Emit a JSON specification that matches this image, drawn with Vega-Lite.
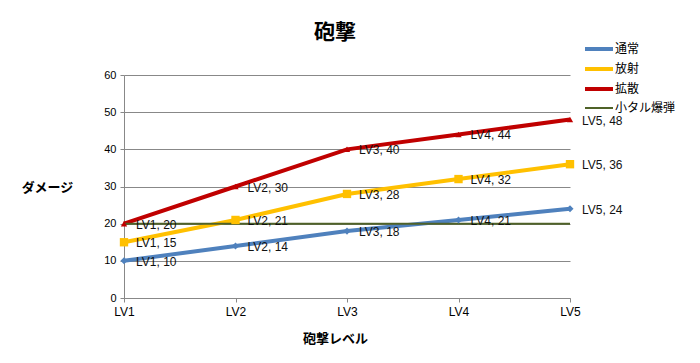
{
  "$schema": "https://vega.github.io/schema/vega-lite/v6.json",
  "autosize": {"type": "none"},
  "width": 446,
  "height": 223,
  "padding": {"left": 124, "top": 75, "right": 130, "bottom": 65},
  "background": "white",
  "title": {
    "text": "砲撃",
    "font": "Noto Sans CJK JP",
    "fontSize": 21,
    "fontWeight": "bold",
    "color": "#000000",
    "anchor": "middle",
    "dx": -12,
    "offset": -6
  },
  "config": {
    "view": {"stroke": null},
    "font": "Liberation Sans",
    "axis": {
      "domainColor": "#888888",
      "tickColor": "#888888",
      "gridColor": "#888888",
      "labelColor": "#000000",
      "labelFont": "Liberation Sans",
      "labelFontSize": 11,
      "titleFont": "Noto Sans CJK JP",
      "titleFontSize": 13,
      "titleFontWeight": "bold",
      "titleColor": "#000000",
      "tickSize": 4
    }
  },
  "data": {
    "values": [
      {"level": "LV1", "series": "通常", "value": 10, "label": "LV1, 10"},
      {"level": "LV2", "series": "通常", "value": 14, "label": "LV2, 14"},
      {"level": "LV3", "series": "通常", "value": 18, "label": "LV3, 18"},
      {"level": "LV4", "series": "通常", "value": 21, "label": "LV4, 21"},
      {"level": "LV5", "series": "通常", "value": 24, "label": "LV5, 24"},
      {"level": "LV1", "series": "放射", "value": 15, "label": "LV1, 15"},
      {"level": "LV2", "series": "放射", "value": 21, "label": "LV2, 21"},
      {"level": "LV3", "series": "放射", "value": 28, "label": "LV3, 28"},
      {"level": "LV4", "series": "放射", "value": 32, "label": "LV4, 32"},
      {"level": "LV5", "series": "放射", "value": 36, "label": "LV5, 36"},
      {"level": "LV1", "series": "拡散", "value": 20, "label": "LV1, 20"},
      {"level": "LV2", "series": "拡散", "value": 30, "label": "LV2, 30"},
      {"level": "LV3", "series": "拡散", "value": 40, "label": "LV3, 40"},
      {"level": "LV4", "series": "拡散", "value": 44, "label": "LV4, 44"},
      {"level": "LV5", "series": "拡散", "value": 48, "label": "LV5, 48"},
      {"level": "LV1", "series": "小タル爆弾", "value": 20, "label": ""},
      {"level": "LV2", "series": "小タル爆弾", "value": 20, "label": ""},
      {"level": "LV3", "series": "小タル爆弾", "value": 20, "label": ""},
      {"level": "LV4", "series": "小タル爆弾", "value": 20, "label": ""},
      {"level": "LV5", "series": "小タル爆弾", "value": 20, "label": ""}
    ]
  },
  "encoding": {
    "x": {
      "field": "level",
      "type": "ordinal",
      "scale": {"type": "point", "padding": 0},
      "axis": {
        "labelAngle": 0,
        "labelFontSize": 12,
        "labelPadding": 4,
        "title": "砲撃レベル",
        "titleX": 211,
        "titleY": 40,
        "titleAlign": "center",
        "titleBaseline": "middle"
      }
    },
    "y": {
      "field": "value",
      "type": "quantitative",
      "scale": {"domain": [0, 60], "nice": false},
      "axis": {
        "values": [0, 10, 20, 30, 40, 50, 60],
        "grid": true,
        "labelPadding": 4,
        "title": "ダメージ",
        "titleAngle": 0,
        "titleX": -77,
        "titleY": 112,
        "titleAlign": "center",
        "titleBaseline": "middle"
      }
    }
  },
  "layer": [
    {
      "mark": {"type": "line"},
      "encoding": {
        "color": {
          "field": "series",
          "type": "nominal",
          "scale": {
            "domain": ["通常", "放射", "拡散", "小タル爆弾"],
            "range": ["#4F81BD", "#FFC000", "#C00000", "#4F6228"]
          },
          "legend": {
            "title": null,
            "orient": "none",
            "legendX": 463,
            "legendY": -38,
            "symbolType": "M-1.4,0H1.4",
            "symbolSize": 400,
            "rowPadding": 0,
            "labelFont": "Noto Sans CJK JP",
            "labelFontSize": 12,
            "labelColor": "#000000",
            "labelOffset": 4
          }
        },
        "strokeWidth": {
          "field": "series",
          "type": "nominal",
          "scale": {
            "type": "ordinal",
            "domain": ["通常", "放射", "拡散", "小タル爆弾"],
            "range": [4, 4, 4, 2]
          },
          "legend": {
            "title": null,
            "orient": "none",
            "legendX": 463,
            "legendY": -38,
            "symbolType": "M-1.4,0H1.4",
            "symbolSize": 400,
            "rowPadding": 0,
            "labelFont": "Noto Sans CJK JP",
            "labelFontSize": 12,
            "labelColor": "#000000",
            "labelOffset": 4
          }
        }
      }
    },
    {
      "transform": [{"filter": "datum.series !== '小タル爆弾'"}],
      "mark": {"type": "point", "filled": true, "opacity": 1},
      "encoding": {
        "color": {"field": "series", "type": "nominal", "legend": null},
        "shape": {
          "field": "series",
          "type": "nominal",
          "scale": {
            "domain": ["通常", "放射", "拡散"],
            "range": ["diamond", "square", "triangle-up"]
          },
          "legend": null
        },
        "size": {
          "field": "series",
          "type": "nominal",
          "scale": {"type": "ordinal", "domain": ["通常", "放射", "拡散"], "range": [50, 70, 40]},
          "legend": null
        }
      }
    },
    {
      "transform": [{"filter": "datum.series !== '小タル爆弾'"}],
      "mark": {
        "type": "text",
        "align": "left",
        "baseline": "middle",
        "dx": 12,
        "dy": 1,
        "font": "Liberation Sans",
        "fontSize": 12,
        "color": "#111111"
      },
      "encoding": {
        "text": {"field": "label", "type": "nominal"}
      }
    }
  ]
}
